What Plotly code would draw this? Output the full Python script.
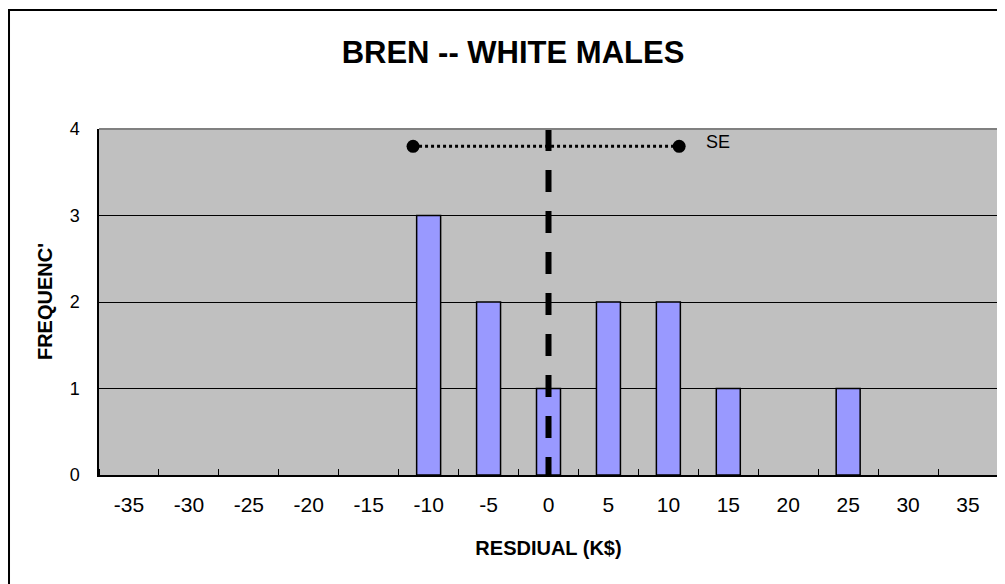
import plotly.graph_objects as go

# dados do histograma
residual = [-35, -30, -25, -20, -15, -10, -5, 0, 5, 10, 15, 20, 25, 30, 35]
frequencia = [0, 0, 0, 0, 0, 3, 2, 1, 2, 2, 1, 0, 1, 0, 0]
tick_labels = [str(r) for r in residual]

# faixa do erro padrao (SE) e media
se_x = [-11.3, 10.9]
se_y = [3.8, 3.8]
media = 0
y_max = 4

passo = residual[1] - residual[0]
limites = [r - passo / 2 for r in residual] + [residual[-1] + passo / 2]

# barras com zero nao aparecem no original
barras = [f if f > 0 else None for f in frequencia]

fig = go.Figure()

fig.add_trace(go.Bar(x=residual, y=barras, width=passo * 0.4,
                     marker=dict(color='#9999FF', line=dict(color='black', width=1.5))))

# linha tracejada da media
fig.add_trace(go.Scatter(x=[media, media], y=[y_max, 0], mode='lines',
                         line=dict(color='black', width=6, dash='22px,19px')))

# SE
fig.add_trace(go.Scatter(x=se_x, y=se_y, mode='lines+markers',
                         line=dict(color='black', width=3, dash='dot'),
                         marker=dict(color='black', size=13)))

fig.add_annotation(x=se_x[1] + 2.05, y=3.85, text='SE', showarrow=False,
                   xanchor='left', yanchor='middle', font=dict(size=18, color='black'))

# a pagina tem margem de 8px no body, entao a figura eh deslocada
fig.update_layout(
    width=997, height=576,
    margin=dict(l=91, r=7, t=121, b=109),
    paper_bgcolor='white', plot_bgcolor='#C0C0C0',
    showlegend=False,
    font=dict(family='Arial, Liberation Sans, sans-serif', color='black'),
    title=dict(text='<b>BREN -- WHITE MALES</b>', font=dict(size=31),
               xref='container', x=0.5065, y=0.9236, xanchor='center', yanchor='middle'),
)

fig.update_xaxes(range=[limites[0], limites[-1]], tickmode='array', tickvals=residual,
                 ticktext=tick_labels, ticks='', tickfont=dict(size=21),
                 ticklabelstandoff=10,
                 minor=dict(tickmode='array', tickvals=limites, ticks='inside', ticklen=6,
                            tickcolor='black', tickwidth=1, showgrid=False),
                 showgrid=False, zeroline=False, showline=True, linecolor='black', linewidth=2,
                 title=dict(text='<b>RESDIUAL (K$)</b>', font=dict(size=20), standoff=26))

fig.update_yaxes(range=[0, y_max], dtick=1, ticks='', tickfont=dict(size=18),
                 ticklabelstandoff=14,
                 showgrid=True, gridcolor='black', gridwidth=1, zeroline=False,
                 showline=True, linecolor='black', linewidth=1.5)

fig.add_annotation(text="<b>FREQUENC'</b>", x=-0.06, y=0.5, xref='paper', yref='paper',
                   textangle=-90, showarrow=False, font=dict(size=20),
                   xanchor='center', yanchor='middle')

# borda do grafico (topo e direita cinza) e moldura externa
fig.add_shape(type='line', xref='paper', yref='paper', x0=0, x1=1, y0=1, y1=1,
              line=dict(color='#808080', width=2))
fig.add_shape(type='line', xref='paper', yref='paper', x0=1, x1=1, y0=0, y1=1,
              line=dict(color='#808080', width=2))
fig.add_shape(type='rect', xref='paper', yref='paper', x0=-0.1001, x1=1.05, y0=-0.5, y1=1.3439,
              line=dict(color='black', width=2))

fig.write_html('out.html')
